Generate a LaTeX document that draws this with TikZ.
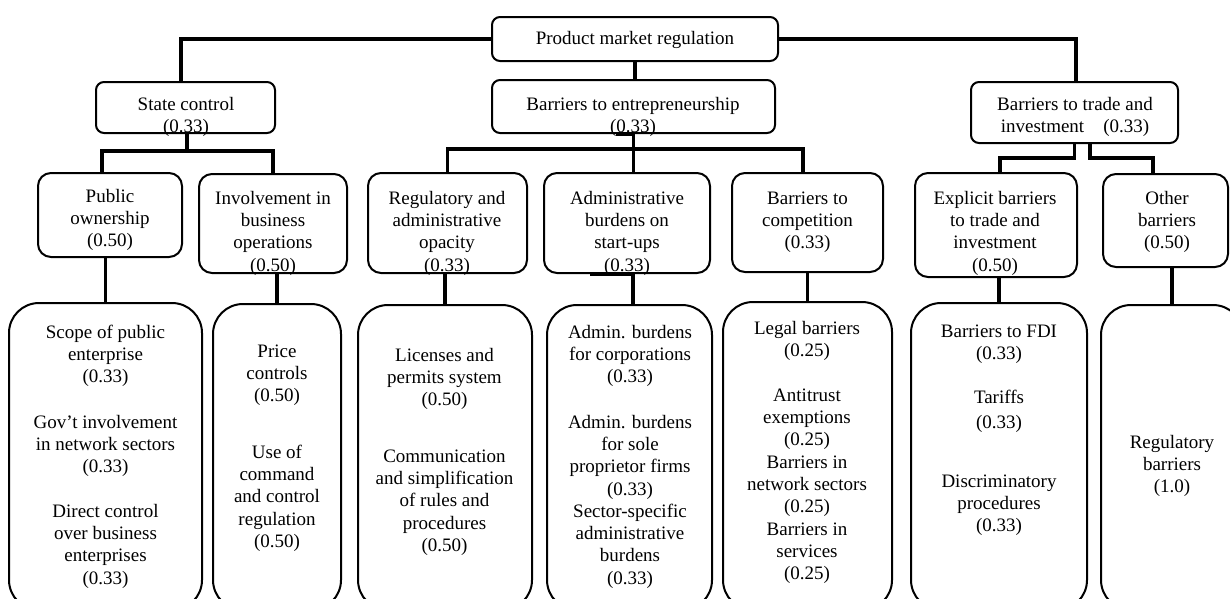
\documentclass[tikz,border=0pt]{standalone}
\usepackage{fontspec}
\setmainfont{Liberation Serif}
\usetikzlibrary{calc}
\begin{document}
\begin{tikzpicture}[x=1pt,y=-1pt,
  boxA/.style={draw, line width=2pt, rounded corners=8pt, inner sep=0pt},
  boxB/.style={draw, line width=2pt, rounded corners=13pt, inner sep=0pt},
  boxC/.style={draw, line width=2pt, rounded corners=30pt, inner sep=0pt},
  lbl/.style={font=\fontsize{19}{22.3}\selectfont, align=center, anchor=north, inner sep=0pt},
  conn/.style={line width=3.8pt}]
\useasboundingbox (0,0) rectangle (1230,598);
\fill[white] (0,0) rectangle (1230,598);
\clip (0,0) rectangle (1230,598);
% level 0/1 boxes
\node[boxA, minimum width=286pt, minimum height=44pt] (top) at (635,39) {};
\node[boxA, minimum width=179pt, minimum height=51pt] (sc) at (185.5,107.5) {};
\node[boxA, minimum width=283pt, minimum height=53pt] (be) at (633.5,106.5) {};
\node[boxA, minimum width=207pt, minimum height=61pt] (bt) at (1074.5,112.5) {};
% level 2 boxes
\node[boxB, minimum width=144pt, minimum height=84pt] (po) at (110,215) {};
\node[boxB, minimum width=148pt, minimum height=99pt] (ibo) at (273,223.5) {};
\node[boxB, minimum width=159pt, minimum height=100pt] (reg) at (447.5,223) {};
\node[boxB, minimum width=166pt, minimum height=100pt] (adm) at (627,223) {};
\node[boxB, minimum width=151pt, minimum height=99pt] (comp) at (807.5,222.5) {};
\node[boxB, minimum width=162pt, minimum height=104pt] (ex) at (996,225) {};
\node[boxB, minimum width=125pt, minimum height=93pt] (ot) at (1165.5,220.5) {};
% level 3 boxes
\node[boxC, minimum width=193pt, minimum height=307pt] (b1) at (105.5,456.5) {};
\node[boxC, minimum width=128pt, minimum height=306pt] (b2) at (277,457) {};
\node[boxC, minimum width=174pt, minimum height=305pt] (b3) at (445,457.5) {};
\node[boxC, minimum width=165pt, minimum height=305pt] (b4) at (629.5,457.5) {};
\node[boxC, minimum width=169pt, minimum height=308pt] (b5) at (807.5,456) {};
\node[boxC, minimum width=176pt, minimum height=307pt] (b6) at (999,456.5) {};
\node[boxC, minimum width=142pt, minimum height=305pt] (b7) at (1172,457.5) {};
% connectors
\draw[conn] (top.west) -| ($(sc.north)+(-4.5,0)$);
\draw[conn] (top.south) -- (top.south |- be.north);
\draw[conn] (top.east) -| ($(bt.north)+(1.5,0)$);
\coordinate (j1) at ($(sc.south)+(1.5,17)$);
\draw[conn] (sc.south -| j1) -- (j1);
\draw[conn] ($(po.north)+(-8,0)$) |- (j1) -| (ibo.north);
\draw[conn] (po.south -| b1.north) -- (b1.north);
\draw[conn] (ibo.south -| b2.north) -- (b2.north);
\coordinate (j2) at ($(be.south)+(0,15)$);
\draw[conn] ($(be.south)+(-18,0)$) -- (be.south) -- (adm.north -| be.south);
\draw[conn] (reg.north) |- (j2) -| ($(comp.north)+(-4.5,0)$);
\draw[conn] (reg.south -| b3.north) -- (b3.north);
\draw[conn] ($(b4.north |- adm.south)+(-40,0)$) -- ($(b4.north |- adm.south)+(3.5,0)$) -- ($(b4.north)+(3.5,0)$);
\draw[conn] (comp.south -| b5.north) -- (b5.north);
\draw[conn] (bt.south) -- ++(0,14) -| ($(ex.north)+(4,0)$);
\draw[conn] ($(bt.south)+(15.5,0)$) -- ++(0,14) -| ($(ot.north)+(-12.5,0)$);
\draw[conn] (ex.south -| b6.north) -- (b6.north);
\draw[conn] (ot.south -| b7.north) -- (b7.north);
% texts level 0/1
\node[lbl] (topt) at (635,28.5) {\strut Product market regulation};
\node[lbl] (sct) at (186,94.5) {\strut State control\\(0.33)};
\node[lbl] (bet) at (633,94.5) {\strut Barriers to entrepreneurship\\(0.33)};
\node[lbl] (btt) at (1075,94.5) {\strut Barriers to trade and\\investment\quad(0.33)};
% texts level 2
\node[lbl] (pot) at (110,186.5) {\strut Public\\ownership\\(0.50)};
\node[lbl] (ibot) at (273,188.5) {\strut Involvement in\\business\\operations\\(0.50)};
\node[lbl] (regt) at (447,188.5) {\strut Regulatory and\\administrative\\opacity\\(0.33)};
\node[lbl] (admt) at (627,188.5) {\strut Administrative\\burdens on\\start-ups\\(0.33)};
\node[lbl] (compt) at (807.5,188.5) {\strut Barriers to\\competition\\(0.33)};
\node[lbl] (ext) at (995,188.5) {\strut Explicit barriers\\to trade and\\investment\\(0.50)};
\node[lbl] (ott) at (1167,188.5) {\strut Other\\barriers\\(0.50)};
% texts level 3
\node[lbl] (b1a) at (105.5,322.5) {\strut Scope of public\\enterprise\\(0.33)};
\node[lbl] (b1b) at (105.5,412.5) {\strut Gov’t involvement\\in network sectors\\(0.33)};
\node[lbl] (b1c) at (105.5,501.5) {\strut Direct control\\over business\\enterprises\\(0.33)};
\node[lbl] (b2a) at (277,341.5) {\strut Price\\controls\\(0.50)};
\node[lbl] (b2b) at (277,442.5) {\strut Use of\\command\\and control\\regulation\\(0.50)};
\node[lbl] (b3a) at (444.5,345.5) {\strut Licenses and\\permits system\\(0.50)};
\node[lbl] (b3b) at (444.5,446.5) {\strut Communication\\and simplification\\of rules and\\procedures\\(0.50)};
\node[lbl] (b4a) at (630,322.5) {\strut Admin. burdens\\for corporations\\(0.33)};
\node[lbl] (b4b) at (630,412.5) {\strut Admin. burdens\\for sole\\proprietor firms\\(0.33)};
\node[lbl] (b4c) at (630,501.5) {\strut Sector-specific\\administrative\\burdens\\(0.33)};
\node[lbl] (b5a) at (807,318.5) {\strut Legal barriers\\(0.25)};
\node[lbl] (b5b) at (807,385.5) {\strut Antitrust\\exemptions\\(0.25)};
\node[lbl] (b5c) at (807,452.5) {\strut Barriers in\\network sectors\\(0.25)};
\node[lbl] (b5d) at (807,519.5) {\strut Barriers in\\services\\(0.25)};
\node[lbl] (b6a) at (999,321.5) {\strut Barriers to FDI\\(0.33)};
\node[lbl] (b6b) at (999,387.5) {\strut Tariffs\\[2.5pt](0.33)};
\node[lbl] (b6c) at (999,471.5) {\strut Discriminatory\\procedures\\(0.33)};
\node[lbl] (b7a) at (1172,432.5) {\strut Regulatory\\barriers\\(1.0)};
\end{tikzpicture}
\end{document}
